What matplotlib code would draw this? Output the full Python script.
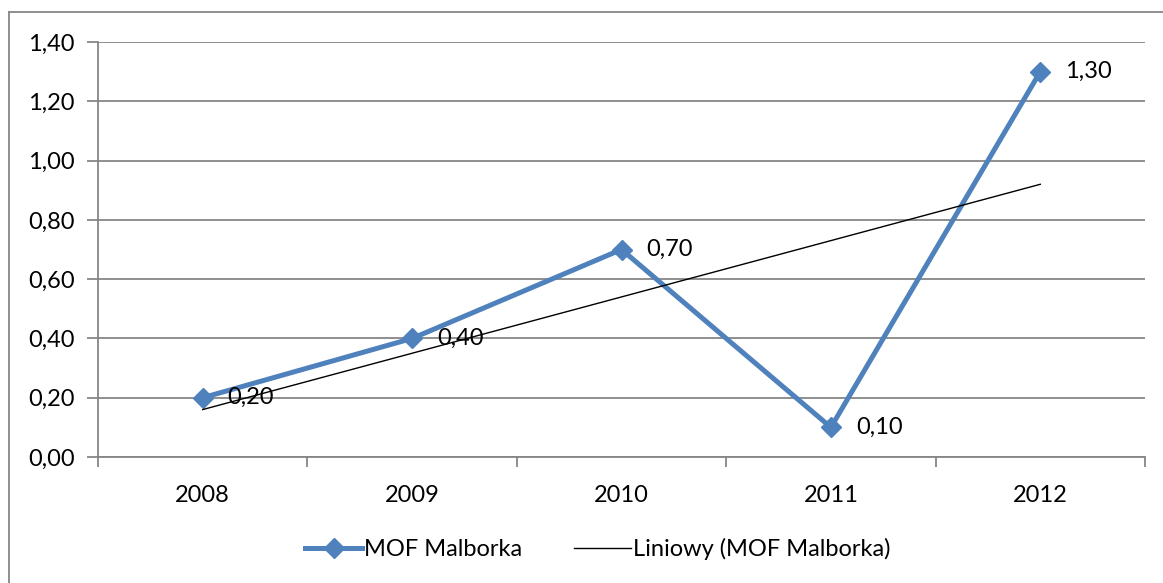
import numpy as np
import matplotlib.pyplot as plt
from matplotlib.lines import Line2D

# data
years = ['2008', '2009', '2010', '2011', '2012']
values = [0.20, 0.40, 0.70, 0.10, 1.30]
labels = ['0,20', '0,40', '0,70', '0,10', '1,30']
yticks = [0.0, 0.2, 0.4, 0.6, 0.8, 1.0, 1.2, 1.4]

plt.rcParams['font.family'] = ['Lato', 'DejaVu Sans']
fs = 17

W, H = 1163, 583
fig = plt.figure(figsize=(W / 100, H / 100), dpi=100)
ax = fig.add_axes([98 / W, 1 - 457 / H, (1145 - 98) / W, (457 - 42) / H])

x = np.arange(len(years))
blue = '#4F81BD'
grid = '#868686'

# linear trend (Excel "Liniowy")
k, b = np.polyfit(x, values, 1)
trend = k * x + b

ax.plot(x, values, color=blue, lw=3.6, marker='D', ms=10, zorder=3,
        label='MOF Malborka')
ax.plot([x[0], x[-1]], [trend[0], trend[-1]], color='black', lw=1.0, zorder=4,
        label='Liniowy (MOF Malborka)')

for xi, v, t in zip(x, values, labels):
    ax.annotate(t, (xi, v), xytext=(18, 0), textcoords='offset points',
                ha='left', va='center', fontsize=fs, zorder=5)

ax.set_xlim(-0.5, len(years) - 0.5)
ax.set_ylim(0, 1.4)
ax.set_yticks(yticks)
ax.set_yticklabels([('%.2f' % t).replace('.', ',') for t in yticks])
ax.set_xticks(np.arange(-0.5, len(years), 1.0))
ax.set_xticklabels([])
ax.set_xticks(x, minor=True)
ax.set_xticklabels(years, minor=True)
ax.tick_params(axis='x', which='major', length=7, color=grid, width=1.3, direction='out')
ax.tick_params(axis='x', which='minor', length=0, pad=20, labelsize=fs)
ax.tick_params(axis='y', length=8, color=grid, width=1.3, pad=9, labelsize=fs)
ax.yaxis.grid(True, color=grid, lw=1.3)
ax.set_axisbelow(True)
for s in ['top', 'right']:
    ax.spines[s].set_visible(False)
for s in ['left', 'bottom']:
    ax.spines[s].set_color(grid)
    ax.spines[s].set_linewidth(1.3)

leg = fig.legend(loc='center', bbox_to_anchor=(598 / W, 1 - 549 / H), ncol=2,
                 frameon=False, fontsize=fs, handlelength=2.4,
                 handletextpad=0.1, columnspacing=2.2)

# outer chart border (left and top visible)
fig.add_artist(Line2D([9 / W, 9 / W], [0, 1 - 12 / H], color=grid, lw=1.3,
                      transform=fig.transFigure))
fig.add_artist(Line2D([9 / W, 1], [1 - 12 / H, 1 - 12 / H], color=grid, lw=1.3,
                      transform=fig.transFigure))

plt.savefig('out.png', dpi=100)
